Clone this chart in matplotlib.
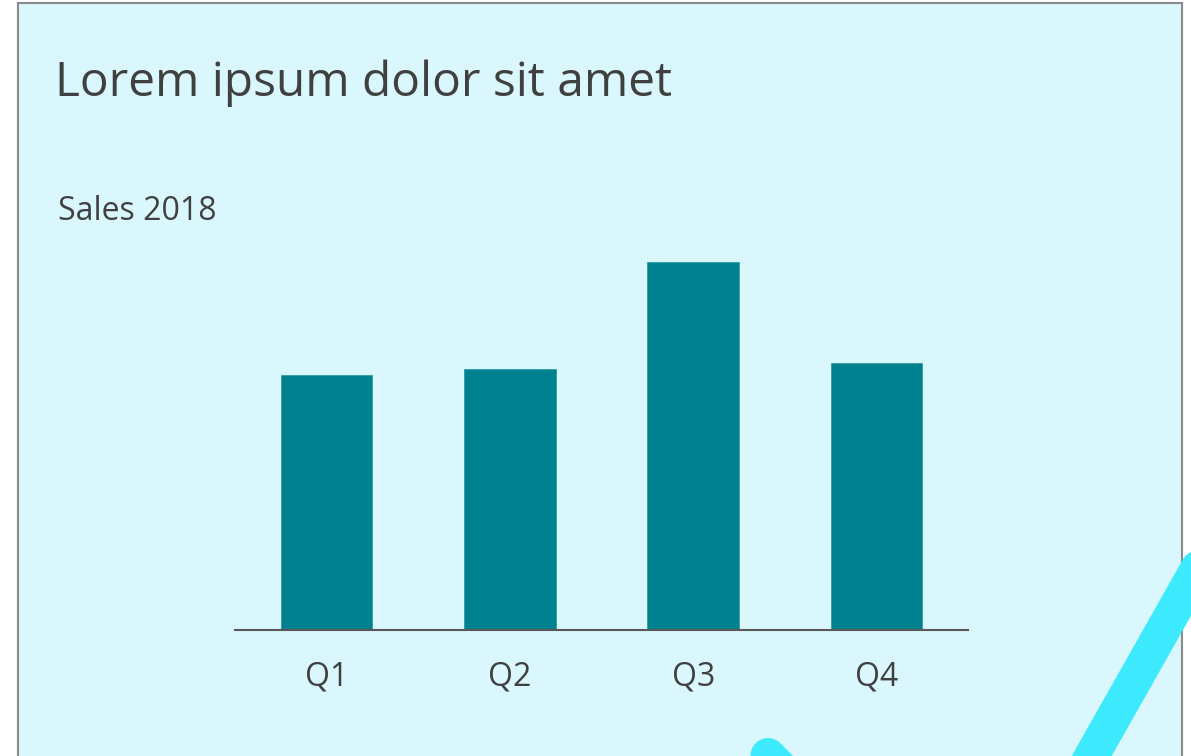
import matplotlib

matplotlib.use("Agg")
import matplotlib.pyplot as plt
import numpy as np
from matplotlib.patches import Circle, Polygon, Rectangle

# Chart data (arbitrary units)
quarters = ["Q1", "Q2", "Q3", "Q4"]
sales_2018 = [69.3, 70.9, 100.0, 72.6]

TITLE = "Lorem ipsum dolor sit amet"
SERIES_LABEL = "Sales 2018"

BG = "#d9f7fd"
BAR = "#00818f"
TEXT = "#404040"
ACCENT = "#3deafd"

W, H = 1191, 756
plt.rcParams["font.family"] = ["Open Sans", "DejaVu Sans"]

fig = plt.figure(figsize=(W / 100, H / 100), dpi=100)
fig.patch.set_facecolor("white")


def fx(px):
    return px / W


def fy(py):
    return 1 - py / H


# slide panel with thin gray border (behind everything)
fig.patches.append(
    Rectangle((fx(18), fy(800)), fx(1182) - fx(18), fy(3) - fy(800),
              transform=fig.transFigure, facecolor=BG, edgecolor="#8a8a8a",
              linewidth=1.5, zorder=-5)
)

fig.text(fx(55), fy(96), TITLE, fontsize=34.5, color=TEXT, va="baseline", ha="left")
fig.text(fx(58), fy(220), SERIES_LABEL, fontsize=23, color=TEXT, va="baseline", ha="left")

# bar chart
ax = fig.add_axes([fx(235), fy(630), fx(968) - fx(235), fy(262) - fy(630)])
ax.set_facecolor("none")
x = range(len(quarters))
ax.bar(x, sales_2018, width=0.5, color=BAR, edgecolor="#2f9aa6", linewidth=0.6, zorder=2)
ax.set_xlim(-0.5, len(quarters) - 0.5)
ax.set_ylim(0, max(sales_2018))
for side in ("top", "right", "left"):
    ax.spines[side].set_visible(False)
ax.spines["bottom"].set_color("#595959")
ax.spines["bottom"].set_linewidth(1.5)
ax.spines["bottom"].set_zorder(3)
ax.set_yticks([])
ax.set_xticks(list(x))
ax.set_xticklabels(quarters, fontsize=23, color=TEXT)
ax.tick_params(axis="x", length=0, pad=22)

# decorative check-mark stroke in pixel space, over the border.
# Built from filled shapes: Agg clips stroked lines at the canvas edge,
# which would put fake round caps there.
deco = fig.add_axes([0, 0, 1, 1], zorder=5)
deco.set_xlim(0, W)
deco.set_ylim(H, 0)
deco.axis("off")
deco.patch.set_alpha(0)

half_w = 17.4
check_pts = np.array([[768, 755.5], [975, 962.5], [1198, 568]])
for p0, p1 in zip(check_pts[:-1], check_pts[1:]):
    d = (p1 - p0) / np.hypot(*(p1 - p0))
    n = np.array([-d[1], d[0]]) * half_w
    deco.add_patch(Polygon([p0 + n, p1 + n, p1 - n, p0 - n], closed=True,
                           facecolor=ACCENT, edgecolor="none"))
for p in check_pts:
    deco.add_patch(Circle(p, half_w, facecolor=ACCENT, edgecolor="none"))

fig.savefig("out.png", dpi=100, facecolor=fig.get_facecolor())
